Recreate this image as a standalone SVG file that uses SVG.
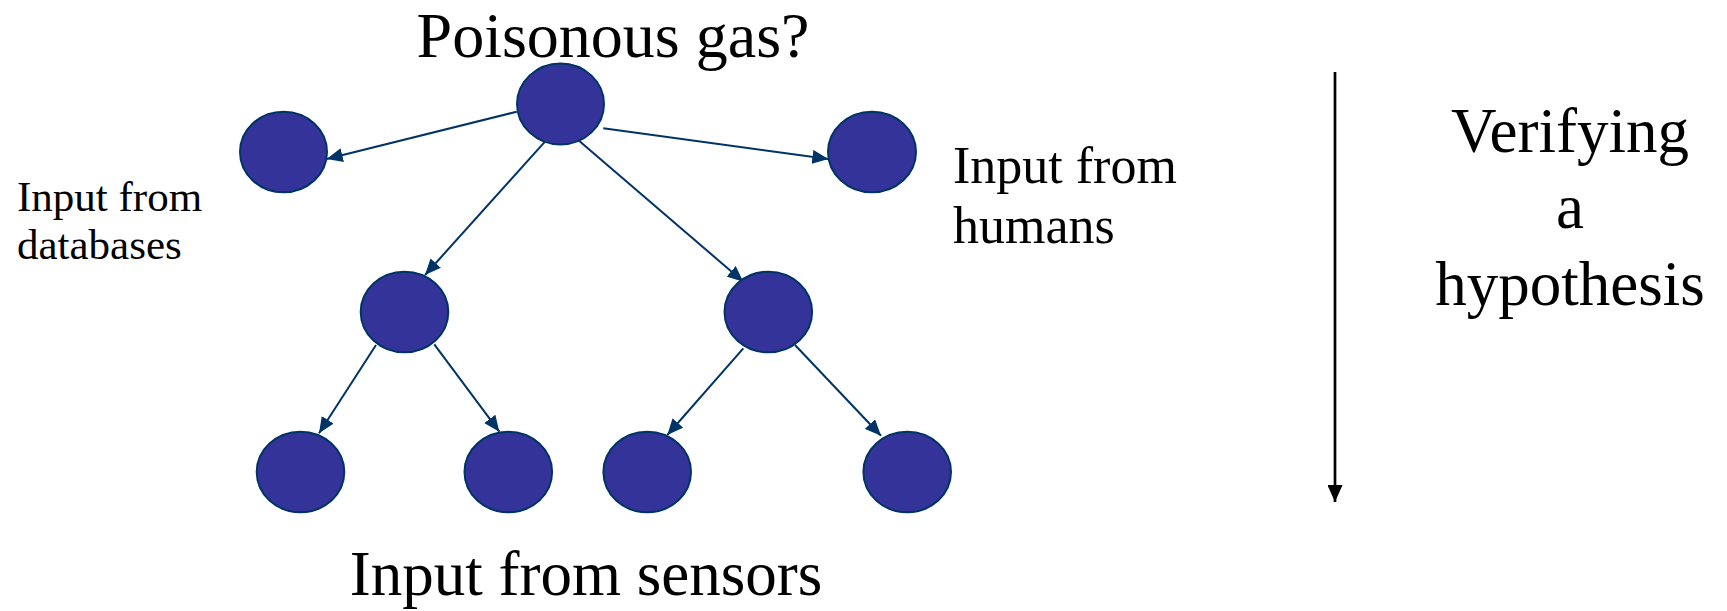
<svg xmlns="http://www.w3.org/2000/svg" width="1727" height="611" viewBox="0 0 1727 611">
<style>
.node{fill:#333399;stroke:#003366;stroke-width:2}
.edge{stroke:#003366;stroke-width:2;fill:none}
.t{font-family:"Liberation Serif","Times New Roman",serif;fill:#000}
</style>
<defs>
<marker id="ah" viewBox="0 0 16 14" refX="16" refY="7" markerWidth="16" markerHeight="14" markerUnits="userSpaceOnUse" orient="auto">
<path d="M0,0 L16,7 L0,14 Z" fill="#003366"/>
</marker>
<marker id="bh" viewBox="0 0 17 15" refX="17" refY="7.5" markerWidth="17" markerHeight="15" markerUnits="userSpaceOnUse" orient="auto">
<path d="M0,0 L17,7.5 L0,15 Z" fill="#000"/>
</marker>
</defs>
<rect width="1727" height="611" fill="#fff"/>
<g id="connectors">
<line class="edge" x1="516.7" y1="111.7" x2="326.7" y2="159" marker-end="url(#ah)"/>
<line class="edge" x1="603.3" y1="128.3" x2="828.3" y2="159" marker-end="url(#ah)"/>
<line class="edge" x1="545" y1="141.7" x2="425" y2="275" marker-end="url(#ah)"/>
<line class="edge" x1="579.3" y1="141" x2="743.3" y2="281.7" marker-end="url(#ah)"/>
<line class="edge" x1="376" y1="345" x2="319" y2="433.3" marker-end="url(#ah)"/>
<line class="edge" x1="434.3" y1="344.3" x2="499.3" y2="431.7" marker-end="url(#ah)"/>
<line class="edge" x1="743.3" y1="348.3" x2="667.3" y2="435" marker-end="url(#ah)"/>
<line class="edge" x1="795" y1="345" x2="881" y2="435.7" marker-end="url(#ah)"/>
<line x1="1335" y1="72" x2="1335" y2="502" stroke="#000" stroke-width="2.7" marker-end="url(#bh)"/>
</g>
<g id="n-root"><ellipse class="node" cx="560.5" cy="104" rx="43.5" ry="40.5"/></g>
<g id="n-db"><ellipse class="node" cx="283.5" cy="152" rx="43.5" ry="40.3"/></g>
<g id="n-human"><ellipse class="node" cx="872" cy="152" rx="44" ry="40.3"/></g>
<g id="n-midleft"><ellipse class="node" cx="404.5" cy="312" rx="43.8" ry="40.3"/></g>
<g id="n-midright"><ellipse class="node" cx="768.3" cy="312" rx="43.8" ry="40.3"/></g>
<g id="n-b1"><ellipse class="node" cx="300.5" cy="472" rx="43.8" ry="40.3"/></g>
<g id="n-b2"><ellipse class="node" cx="508.3" cy="472" rx="43.8" ry="40.3"/></g>
<g id="n-b3"><ellipse class="node" cx="647.2" cy="472" rx="43.8" ry="40.3"/></g>
<g id="n-b4"><ellipse class="node" cx="907.2" cy="472" rx="43.8" ry="40.3"/></g>
<g id="labels">
<text class="t" x="613" y="57" font-size="64" text-anchor="middle">Poisonous gas?</text>
<text class="t" x="17" y="211" font-size="43">Input from</text>
<text class="t" x="17" y="259" font-size="43">databases</text>
<text class="t" x="953" y="183" font-size="52">Input from</text>
<text class="t" x="953" y="243" font-size="52">humans</text>
<text class="t" x="586" y="595" font-size="63" text-anchor="middle">Input from sensors</text>
<text class="t" x="1570" y="152" font-size="63" text-anchor="middle">Verifying</text>
<text class="t" x="1570" y="228" font-size="63" text-anchor="middle">a</text>
<text class="t" x="1570" y="305" font-size="63" text-anchor="middle">hypothesis</text>
</g>
</svg>
